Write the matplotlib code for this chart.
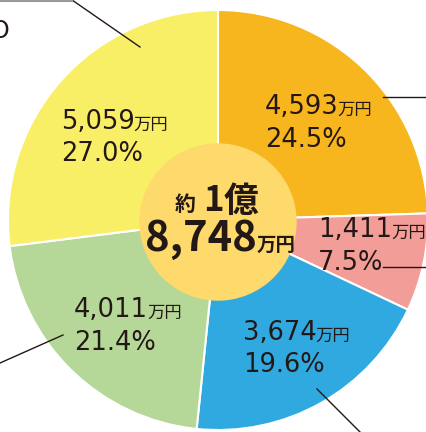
import matplotlib.pyplot as plt
from matplotlib.patches import Circle

plt.rcParams['font.family'] = ['DejaVu Sans', 'Noto Sans CJK JP']

# 内訳（万円）
amounts = [4593, 1411, 3674, 4011, 5059]
amount_labels = ['4,593', '1,411', '3,674', '4,011', '5,059']
pct_labels = ['24.5%', '7.5%', '19.6%', '21.4%', '27.0%']
colors = ['#f7b51e', '#f29d98', '#30a9e1', '#b5d899', '#f9ef67']
total_label = '8,748'

ink = '#231815'

fig = plt.figure(figsize=(4.26, 4.32), dpi=100)
ax = fig.add_axes([0, 0, 1, 1])

# y軸を反転させるので、時計回り表示には counterclock=True / startangle=-90
ax.pie(amounts, colors=colors, startangle=-90, counterclock=True,
       center=(218, 220), radius=210,
       wedgeprops=dict(edgecolor='white', linewidth=1.5))
ax.add_patch(Circle((218, 222), 78, color='#fed96c', zorder=3))

ax.set_xlim(0, 426)
ax.set_ylim(432, 0)
ax.set_aspect('auto')
ax.axis('off')

renderer = fig.canvas.get_renderer()


def right_edge(t):
    bb = t.get_window_extent(renderer)
    return ax.transData.inverted().transform((bb.x1, bb.y0))[0]


# ラベル位置（左端x, 金額のベースラインy, %のベースラインy）
pos = [(265, 114, 147), (318, 237, 270), (243, 340, 372), (74, 317, 350), (61, 129, 161)]
for (x, y1, y2), num, pct in zip(pos, amount_labels, pct_labels):
    t = ax.text(x, y1, num, fontsize=18.5, color=ink, family='DejaVu Sans',
                va='baseline', zorder=5)
    ax.text(right_edge(t) - 1, y1 + 1, '万円', fontsize=12.5, color=ink,
            family='Noto Sans CJK JP', va='baseline', zorder=5)
    ax.text(x, y2, pct, fontsize=18.5, color=ink, family='DejaVu Sans',
            va='baseline', zorder=5)

# 中央の合計
ax.text(175, 211, '約', fontsize=15, fontweight='bold', color=ink,
        family='Noto Sans CJK JP', va='baseline', zorder=5)
ax.text(203, 211, '1', fontsize=25, fontweight='bold', color=ink,
        family='Noto Sans CJK JP', va='baseline', zorder=5)
ax.text(224, 212, '億', fontsize=25, fontweight='bold', color=ink,
        family='Noto Sans CJK JP', va='baseline', zorder=5)
t = ax.text(145, 251, total_label, fontsize=30, fontweight='bold', color=ink,
            family='Noto Sans CJK JP', va='baseline', zorder=5)
ax.text(right_edge(t), 251, '万円', fontsize=14, fontweight='bold', color=ink,
        family='Noto Sans CJK JP', va='baseline', zorder=5)

# 引き出し線
lines = [
    ([383, 426], [97, 97]),
    ([383, 426], [267, 267]),
    ([317, 360], [389, 432]),
    ([0, 63], [363, 335]),
    ([72, 140], [0, 47]),
]
for xs, ys in lines:
    ax.plot(xs, ys, color=ink, linewidth=1, zorder=6)
ax.plot([0, 72], [0.5, 0.5], color='#999999', linewidth=1.5, zorder=6)

# 左上の切れた文字
ax.text(9, 38, 'O', fontsize=17, color=ink, ha='right', va='baseline')

fig.savefig('out.png', dpi=100)
